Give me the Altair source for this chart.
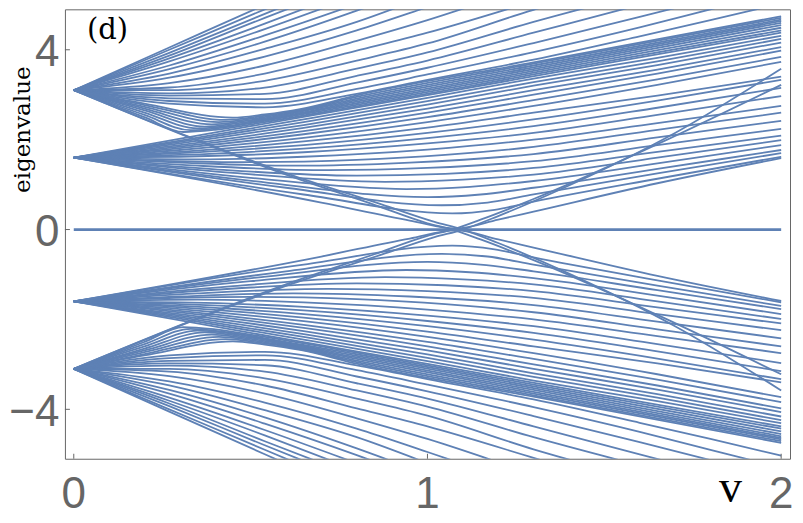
import altair as alt
import pandas as pd

# ---------------- data ----------------
# shared x grids for the two fans
XA = [0, 0.27, 0.54, 0.8, 1.0, 1.3, 1.6, 1.8, 2.0]
XB = [0, 0.3, 0.65, 1.0, 1.3, 1.65, 2.0]

# upper fan from +3.1 (lines leaving through the top)
A_FAN_UP = [
    [3.1, 4.05, 5.0, 5.9],
    [3.1, 4.0, 4.9, 5.76],
    [3.1, 3.93, 4.8, 5.62],
    [3.1, 3.87, 4.71, 5.5],
    [3.1, 3.81, 4.58, 5.36],
    [3.1, 3.74, 4.46, 5.2],
    [3.1, 3.65, 4.32, 5.02, 5.6],
    [3.1, 3.57, 4.18, 4.87, 5.45],
    [3.1, 3.47, 4.02, 4.62, 5.2],
    [3.1, 3.38, 3.85, 4.43, 4.95, 5.75],
    [3.1, 3.26, 3.65, 4.2, 4.66, 5.45],
    [3.1, 3.16, 3.47, 3.98, 4.38, 5.08, 5.8],
    [3.1, 3.1, 3.31, 3.76, 4.14, 4.89, 5.55],
    [3.1, 3.03, 3.16, 3.58, 3.94, 4.62, 5.25],
    [3.1, 2.98, 3.02, 3.42, 3.76, 4.38, 5.0, 5.42],
    [3.1, 2.92, 2.9, 3.27, 3.6, 4.15, 4.73, 5.13],
    [3.1, 2.86, 2.8, 3.13, 3.45, 3.95, 4.5, 4.9, 5.3],
    [3.1, 2.8, 2.72, 3.02, 3.33, 3.78, 4.3, 4.66, 5.03],
]
A_FAN_DN = [
    [-3.1, -4.05, -5.0, -5.9],
    [-3.1, -4.0, -4.9, -5.76],
    [-3.1, -3.93, -4.8, -5.62],
    [-3.1, -3.87, -4.71, -5.5],
    [-3.1, -3.81, -4.58, -5.36],
    [-3.1, -3.74, -4.46, -5.2],
    [-3.1, -3.65, -4.32, -5.02, -5.6],
    [-3.1, -3.57, -4.18, -4.87, -5.45],
    [-3.1, -3.47, -4.02, -4.62, -5.2],
    [-3.1, -3.38, -3.85, -4.43, -4.95, -5.75],
    [-3.1, -3.26, -3.65, -4.2, -4.66, -5.45],
    [-3.1, -3.16, -3.47, -3.98, -4.38, -5.08, -5.8],
    [-3.1, -3.1, -3.31, -3.76, -4.14, -4.89, -5.55],
    [-3.1, -3.03, -3.16, -3.58, -3.94, -4.62, -5.25],
    [-3.1, -2.98, -3.02, -3.42, -3.76, -4.38, -5.0, -5.42],
    [-3.1, -2.92, -2.9, -3.27, -3.6, -4.15, -4.73, -5.13],
    [-3.1, -2.86, -2.8, -3.13, -3.45, -3.95, -4.5, -4.9, -5.3],
    [-3.1, -2.8, -2.72, -3.02, -3.33, -3.78, -4.3, -4.66, -5.03],
]

# upper part of the fan from +1.6
B_FAN_UP = [
    [1.6, 1.98, 2.45, 2.93, 3.36, 3.82, 4.31],
    [1.6, 1.95, 2.39, 2.855, 3.28, 3.74, 4.24],
    [1.6, 1.916, 2.325, 2.778, 3.2, 3.66, 4.16],
    [1.6, 1.88, 2.26, 2.69, 3.1, 3.56, 4.06],
    [1.6, 1.845, 2.19, 2.6, 3.0, 3.47, 3.98],
    [1.6, 1.81, 2.12, 2.5, 2.88, 3.34, 3.84],
    [1.6, 1.77, 2.04, 2.39, 2.75, 3.22, 3.73],
    [1.6, 1.73, 1.96, 2.27, 2.6, 2.98, 3.4],
    [1.6, 1.7, 1.88, 2.15, 2.45, 2.87, 3.33],
    [1.6, 1.66, 1.8, 2.035, 2.3, 2.71, 3.15],
    [1.6, 1.62, 1.72, 1.916, 2.15, 2.55, 2.97],
]
B_FAN_DN = [
    [-1.6, -1.98, -2.45, -2.93, -3.36, -3.82, -4.31],
    [-1.6, -1.95, -2.39, -2.855, -3.28, -3.74, -4.24],
    [-1.6, -1.916, -2.325, -2.778, -3.2, -3.66, -4.16],
    [-1.6, -1.88, -2.26, -2.69, -3.1, -3.56, -4.06],
    [-1.6, -1.845, -2.19, -2.6, -3.0, -3.47, -3.98],
    [-1.6, -1.81, -2.12, -2.5, -2.88, -3.34, -3.84],
    [-1.6, -1.77, -2.04, -2.39, -2.75, -3.22, -3.73],
    [-1.6, -1.73, -1.96, -2.27, -2.6, -2.98, -3.4],
    [-1.6, -1.7, -1.88, -2.15, -2.45, -2.87, -3.33],
    [-1.6, -1.66, -1.8, -2.035, -2.3, -2.71, -3.15],
    [-1.6, -1.62, -1.72, -1.916, -2.15, -2.55, -2.97],
]

# dense band: lower lines of the 3.1 fan bouncing on the 1.6 fan edge, plus that edge
BAND_UP = [
    [[0, 3.1], [0.2, 2.5], [0.31, 2.17], [0.4, 2.22], [0.54, 2.39], [0.8, 2.74], [1.3, 3.45], [2.0, 4.43]],
    [[0, 3.1], [0.2, 2.55], [0.33, 2.21], [0.42, 2.27], [0.54, 2.42], [0.8, 2.775], [1.3, 3.49], [2.0, 4.49]],
    [[0, 3.1], [0.2, 2.6], [0.35, 2.25], [0.44, 2.31], [0.55, 2.45], [0.8, 2.81], [1.3, 3.53], [2.0, 4.55]],
    [[0, 3.1], [0.2, 2.65], [0.37, 2.29], [0.46, 2.36], [0.56, 2.48], [0.8, 2.845], [1.3, 3.57], [2.0, 4.6]],
    [[0, 3.1], [0.2, 2.69], [0.39, 2.34], [0.48, 2.41], [0.58, 2.53], [0.8, 2.88], [1.3, 3.61], [2.0, 4.64]],
    [[0, 3.1], [0.2, 2.73], [0.41, 2.39], [0.5, 2.46], [0.6, 2.58], [0.8, 2.915], [1.3, 3.65], [2.0, 4.67]],
    [[0, 3.1], [0.2, 2.77], [0.43, 2.44], [0.52, 2.51], [0.62, 2.63], [0.8, 2.95], [1.3, 3.69], [2.0, 4.71]],
    [[0, 3.1], [0.2, 2.8], [0.45, 2.49], [0.54, 2.56], [0.64, 2.68], [0.8, 2.985], [1.3, 3.72], [2.0, 4.745]],
    [[0, 1.6], [0.5, 2.3], [1.0, 2.99], [1.5, 3.69], [2.0, 4.38]],
]
BAND_DN = [
    [[0, -3.1], [0.2, -2.5], [0.31, -2.17], [0.4, -2.22], [0.54, -2.39], [0.8, -2.74], [1.3, -3.45], [2.0, -4.43]],
    [[0, -3.1], [0.2, -2.55], [0.33, -2.21], [0.42, -2.27], [0.54, -2.42], [0.8, -2.775], [1.3, -3.49], [2.0, -4.49]],
    [[0, -3.1], [0.2, -2.6], [0.35, -2.25], [0.44, -2.31], [0.55, -2.45], [0.8, -2.81], [1.3, -3.53], [2.0, -4.55]],
    [[0, -3.1], [0.2, -2.65], [0.37, -2.29], [0.46, -2.36], [0.56, -2.48], [0.8, -2.845], [1.3, -3.57], [2.0, -4.6]],
    [[0, -3.1], [0.2, -2.69], [0.39, -2.34], [0.48, -2.41], [0.58, -2.53], [0.8, -2.88], [1.3, -3.61], [2.0, -4.64]],
    [[0, -3.1], [0.2, -2.73], [0.41, -2.39], [0.5, -2.46], [0.6, -2.58], [0.8, -2.915], [1.3, -3.65], [2.0, -4.67]],
    [[0, -3.1], [0.2, -2.77], [0.43, -2.44], [0.52, -2.51], [0.62, -2.63], [0.8, -2.95], [1.3, -3.69], [2.0, -4.71]],
    [[0, -3.1], [0.2, -2.8], [0.45, -2.49], [0.54, -2.56], [0.64, -2.68], [0.8, -2.985], [1.3, -3.72], [2.0, -4.745]],
    [[0, -1.6], [0.5, -2.3], [1.0, -2.99], [1.5, -3.69], [2.0, -4.38]],
]

# lower part of the fan from 1.6: lines dipping toward zero and rising again
B_LOW_UP = [
    [[0, 1.6], [0.15, 1.576], [0.35, 1.56], [0.65, 1.62], [1.0, 1.78], [1.3, 2.0], [1.65, 2.37], [2.0, 2.75]],
    [[0, 1.6], [0.25, 1.53], [0.5, 1.5], [0.8, 1.55], [1.05, 1.66], [1.3, 1.84], [1.65, 2.22], [2.0, 2.6]],
    [[0, 1.6], [0.3, 1.49], [0.62, 1.42], [0.95, 1.49], [1.3, 1.68], [1.65, 2.05], [2.0, 2.42]],
    [[0, 1.6], [0.35, 1.42], [0.72, 1.32], [1.0, 1.37], [1.3, 1.52], [1.65, 1.88], [2.0, 2.24]],
    [[0, 1.6], [0.4, 1.34], [0.8, 1.2], [1.05, 1.24], [1.3, 1.37], [1.65, 1.73], [2.0, 2.09]],
    [[0, 1.6], [0.45, 1.26], [0.88, 1.06], [1.1, 1.11], [1.3, 1.22], [1.65, 1.6], [2.0, 1.99]],
    [[0, 1.6], [0.5, 1.15], [0.94, 0.9], [1.12, 0.95], [1.3, 1.08], [1.65, 1.47], [2.0, 1.88]],
    [[0, 1.6], [0.55, 1.04], [1.0, 0.72], [1.15, 0.78], [1.3, 0.93], [1.65, 1.35], [2.0, 1.77]],
    [[0, 1.6], [0.6, 0.93], [1.04, 0.54], [1.17, 0.6], [1.3, 0.78], [1.65, 1.25], [2.0, 1.7]],
    [[0, 1.6], [0.65, 0.78], [1.07, 0.36], [1.19, 0.44], [1.3, 0.62], [1.65, 1.13], [2.0, 1.62]],
    [[0, 1.6], [0.7, 0.6], [0.95, 0.2], [1.08, 0.02], [1.2, 0.22], [1.3, 0.4], [1.65, 1.03], [2.0, 1.59]],
]
B_LOW_DN = [
    [[0, -1.6], [0.15, -1.576], [0.35, -1.56], [0.65, -1.62], [1.0, -1.78], [1.3, -2.0], [1.65, -2.37], [2.0, -2.75]],
    [[0, -1.6], [0.25, -1.53], [0.5, -1.5], [0.8, -1.55], [1.05, -1.66], [1.3, -1.84], [1.65, -2.22], [2.0, -2.6]],
    [[0, -1.6], [0.3, -1.49], [0.62, -1.42], [0.95, -1.49], [1.3, -1.68], [1.65, -2.05], [2.0, -2.42]],
    [[0, -1.6], [0.35, -1.42], [0.72, -1.32], [1.0, -1.37], [1.3, -1.52], [1.65, -1.88], [2.0, -2.24]],
    [[0, -1.6], [0.4, -1.34], [0.8, -1.2], [1.05, -1.24], [1.3, -1.37], [1.65, -1.73], [2.0, -2.09]],
    [[0, -1.6], [0.45, -1.26], [0.88, -1.06], [1.1, -1.11], [1.3, -1.22], [1.65, -1.6], [2.0, -1.99]],
    [[0, -1.6], [0.5, -1.15], [0.94, -0.9], [1.12, -0.95], [1.3, -1.08], [1.65, -1.47], [2.0, -1.88]],
    [[0, -1.6], [0.55, -1.04], [1.0, -0.72], [1.15, -0.78], [1.3, -0.93], [1.65, -1.35], [2.0, -1.77]],
    [[0, -1.6], [0.6, -0.93], [1.04, -0.54], [1.17, -0.6], [1.3, -0.78], [1.65, -1.25], [2.0, -1.7]],
    [[0, -1.6], [0.65, -0.78], [1.07, -0.36], [1.19, -0.44], [1.3, -0.62], [1.65, -1.13], [2.0, -1.62]],
    [[0, -1.6], [0.7, -0.6], [0.95, -0.2], [1.08, -0.02], [1.2, -0.22], [1.3, -0.4], [1.65, -1.03], [2.0, -1.59]],
]

# steep lines crossing through zero near v = 1.07
EDGES = [
    [[0, 3.1], [0.31, 2.1], [0.6, 1.22], [0.85, 0.55], [1.0, 0.14], [1.07, 0.0], [1.15, -0.22], [1.3, -0.68], [1.65, -1.9], [2.0, -3.22]],
    [[0, -3.1], [0.31, -2.1], [0.6, -1.22], [0.85, -0.55], [1.0, -0.14], [1.07, 0.0], [1.15, 0.22], [1.3, 0.68], [1.65, 1.9], [2.0, 3.22]],
    [[0, 3.1], [0.33, 2.05], [0.62, 1.2], [0.87, 0.56], [1.02, 0.17], [1.1, 0.0], [1.2, -0.3], [1.4, -0.98], [1.7, -2.15], [2.0, -3.58]],
    [[0, -3.1], [0.33, -2.05], [0.62, -1.2], [0.87, -0.56], [1.02, -0.17], [1.1, 0.0], [1.2, 0.3], [1.4, 0.98], [1.7, 2.15], [2.0, 3.58]],
]

ZERO = [[0, 0.0], [2.0, 0.0]]

X_TICKS = [0, 1, 2]
Y_TICKS = [-4, 0, 4]
PANEL = ["(d)"]

# ---------------- build table ----------------
rows = []
lid = 0
for ys in A_FAN_UP + A_FAN_DN:
    for x, y in zip(XA, ys):
        rows.append({"id": lid, "x": x, "y": y})
    lid += 1
for ys in B_FAN_UP + B_FAN_DN:
    for x, y in zip(XB, ys):
        rows.append({"id": lid, "x": x, "y": y})
    lid += 1
for line in BAND_UP + BAND_DN + B_LOW_UP + B_LOW_DN + EDGES:
    for x, y in line:
        rows.append({"id": lid, "x": x, "y": y})
    lid += 1
df = pd.DataFrame(rows)
zdf = pd.DataFrame([{"x": p[0], "y": p[1]} for p in ZERO])
ytdf = pd.DataFrame({"y": Y_TICKS})
xtdf = pd.DataFrame({"x": X_TICKS})

BLUE = "#5E81B5"
GRAY = "#666666"
W, H = 726, 450

xs = alt.Scale(domain=[-0.025, 2.025], nice=False, zero=False)
ys_ = alt.Scale(domain=[-5.1, 4.9], nice=False, zero=False)

x_axis = alt.Axis(
    values=X_TICKS, grid=False, domain=False, ticks=False, labels=False,
    title="v", titleFont="Liberation Serif", titleFontSize=46, titleFontWeight="normal",
    titleColor="black", titleX=666, titleY=43, titleAlign="center", titleBaseline="alphabetic",
)
y_axis = alt.Axis(
    values=Y_TICKS, format="d", grid=False, domain=False, ticks=False,
    labelFont="Liberation Sans", labelFontSize=44, labelColor=GRAY,
    labelPadding=6, labelOverlap=False, labelOffset=3,
    title="eigenvalue", titleFont="DejaVu Serif", titleFontSize=23, titleFontWeight="normal",
    titleColor="black", titleAngle=270, titleX=-35, titleY=120, titleAlign="center",
    titleBaseline="alphabetic",
)

X = alt.X("x:Q", scale=xs, axis=x_axis)
Y = alt.Y("y:Q", scale=ys_, axis=y_axis)

lines = alt.Chart(df).mark_line(
    interpolate="monotone", clip=True, strokeWidth=1.8, color=BLUE
).encode(x=X, y=Y, detail="id:N")

zero = alt.Chart(zdf).mark_line(clip=True, strokeWidth=2.8, color=BLUE).encode(x=X, y=Y)

ytick = alt.Chart(ytdf).mark_rule(color=GRAY, strokeWidth=1).encode(
    y=Y, x=alt.value(0), x2=alt.value(5)
)
xtick = alt.Chart(xtdf).mark_rule(color=GRAY, strokeWidth=1).encode(
    x=X, y=alt.value(H), y2=alt.value(H - 5)
)
xlab = alt.Chart(xtdf).mark_text(
    font="Liberation Sans", fontSize=44, color=GRAY, align="center", baseline="top"
).encode(x=X, y=alt.value(H + 14), text=alt.Text("x:Q", format="d"))

label = alt.Chart(pd.DataFrame({"t": PANEL})).mark_text(
    align="left", baseline="alphabetic", font="DejaVu Serif", fontSize=29, color="black"
).encode(text="t:N", x=alt.value(22), y=alt.value(30))

chart = alt.layer(lines, zero, ytick, xtick, xlab, label).properties(
    width=W, height=H,
    padding={"left": 0, "top": 1, "right": 1, "bottom": 0},
).configure_view(stroke=GRAY, strokeWidth=1)

chart.save("out.html", embed_options={"renderer": "svg", "actions": False})
